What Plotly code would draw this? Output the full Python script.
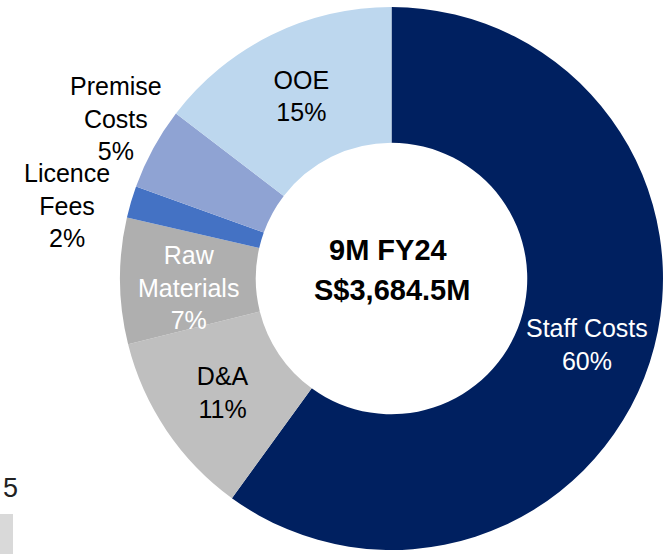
import plotly.graph_objects as go

labels = ["Staff Costs", "D&A", "Raw Materials", "Licence Fees", "Premise Costs", "OOE"]
values = [60.0, 11.1, 7.5, 1.9, 4.9, 14.6]
pct_labels = ["60%", "11%", "7%", "2%", "5%", "15%"]
slice_text = ["Staff Costs", "D&A", "Raw<br>Materials", "Licence<br>Fees", "Premise<br>Costs", "OOE"]
colors = ["#002060", "#BFBFBF", "#AFAFAF", "#4472C4", "#8FA3D3", "#BDD7EE"]
text_colors = ["white", "black", "white", "black", "black", "black"]
positions = ["none", "inside", "none", "none", "none", "inside"]
center_lines = ["9M FY24", "S$3,684.5M"]

W, H = 667, 554
FONT = "Liberation Sans, Arial, sans-serif"
FS = 25

texts = [f"{t}<br>{p}" for t, p in zip(slice_text, pct_labels)]

fig = go.Figure(go.Pie(
    labels=labels,
    values=values,
    text=texts,
    textinfo="text",
    textposition=positions,
    insidetextorientation="horizontal",
    insidetextfont=dict(family=FONT, size=FS, color=text_colors),
    hole=0.5,
    sort=False,
    direction="clockwise",
    rotation=0,
    marker=dict(colors=colors, line=dict(width=0)),
    domain=dict(x=[120 / W, 663 / W], y=[4 / H, 547 / H]),
    showlegend=False,
))


def label(px, py, txt, color="black", size=FS, bold=False):
    if bold:
        txt = "<b>" + txt + "</b>"
    fig.add_annotation(x=px / W, y=1 - py / H, xref="paper", yref="paper",
                       xanchor="center", yanchor="middle",
                       text=txt, showarrow=False,
                       font=dict(family=FONT, size=size, color=color))


# labels placed like the reference (large / thin slices / outside)
label(587, 344, texts[0], color="white")
label(188, 287, texts[2], color="white")
label(116, 119, texts[4])
label(67, 206, texts[3])

# center text
label(388, 250, center_lines[0], size=29, bold=True)
label(392, 290, center_lines[1], size=29, bold=True)

# cropped remnants at bottom-left
label(10, 488, "5", color="#222222", size=27)
fig.add_shape(type="rect", xref="paper", yref="paper",
              x0=0, x1=13 / W, y0=0, y1=1 - 514 / H,
              fillcolor="#D9D9D9", line=dict(width=0))

fig.update_layout(
    width=W, height=H,
    margin=dict(l=0, r=0, t=0, b=0),
    paper_bgcolor="white",
    plot_bgcolor="white",
    uniformtext=dict(minsize=FS, mode="show"),
)

fig.write_html("out.html", config={"displayModeBar": False},
               post_script="document.body.style.margin='0';")
